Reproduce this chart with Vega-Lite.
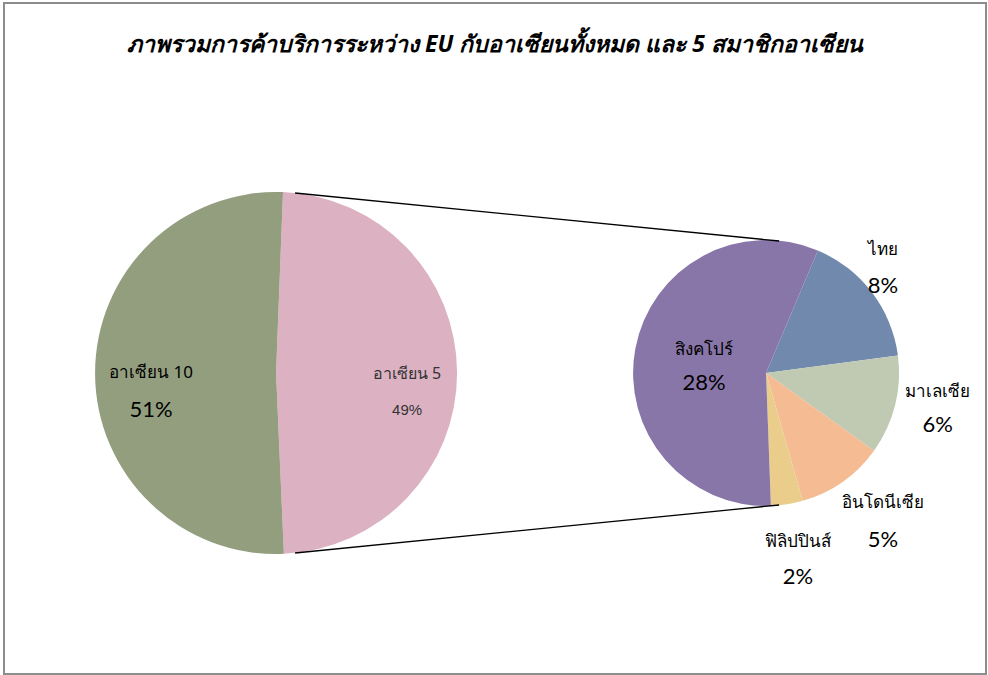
{
  "$schema": "https://vega.github.io/schema/vega-lite/v6.json",
  "width": 982,
  "height": 671,
  "autosize": {"type": "none"},
  "padding": {"left": 4, "top": 3, "right": 2, "bottom": 1},
  "background": "white",
  "config": {"view": {"stroke": "#8c8c8c", "strokeWidth": 2}, "text": {"font": "Noto Sans", "color": "black"}},
  "title": {
    "text": "ภาพรวมการค้าบริการระหว่าง EU กับอาเซียนทั้งหมด และ 5 สมาชิกอาเซียน",
    "fontSize": 23, "fontStyle": "italic", "fontWeight": "bold", "color": "black",
    "font": "Noto Sans", "anchor": "middle", "baseline": "middle", "offset": -65
  },
  "datasets": {
    "left": [
      {"k": 1, "name": "อาเซียน 5", "share": 48.7, "label": "49%"},
      {"k": 2, "name": "อาเซียน 10", "share": 51.3, "label": "51%"}
    ],
    "right": [
      {"k": 1, "name": "ไทย", "share": 8.1, "label": "8%"},
      {"k": 2, "name": "มาเลเซีย", "share": 5.9, "label": "6%"},
      {"k": 3, "name": "อินโดนีเซีย", "share": 5.2, "label": "5%"},
      {"k": 4, "name": "ฟิลิปปินส์", "share": 1.9, "label": "2%"},
      {"k": 5, "name": "สิงคโปร์", "share": 27.9, "label": "28%"}
    ]
  },
  "layer": [
    {
      "data": {"name": "left"},
      "mark": {"type": "arc", "outerRadius": 181},
      "encoding": {
        "x": {"datum": "ASEAN", "type": "nominal", "scale": {"type": "point", "domain": ["ASEAN", "ASEAN5"], "padding": 0.502, "align": 0.553}, "axis": null},
        "y": {"datum": "mid", "type": "nominal", "scale": {"type": "point", "domain": ["mid"], "align": 0.5514}, "axis": null},
        "theta": {"field": "share", "type": "quantitative", "stack": true, "scale": {"range": [0.0384, 6.3216]}},
        "order": {"field": "k", "type": "quantitative"},
        "color": {"field": "name", "type": "nominal", "legend": null,
          "scale": {"domain": ["อาเซียน 5", "อาเซียน 10", "ไทย", "มาเลเซีย", "อินโดนีเซีย", "ฟิลิปปินส์", "สิงคโปร์"],
                    "range": ["#DCB2C3", "#939E7E", "#7189AC", "#C0C9B1", "#F5BB93", "#EBCD8B", "#8976A9"]}}
      }
    },
    {
      "data": {"name": "right"},
      "mark": {"type": "arc", "outerRadius": 133},
      "encoding": {
        "x": {"datum": "ASEAN5", "type": "nominal", "axis": null},
        "y": {"datum": "mid", "type": "nominal", "axis": null},
        "theta": {"field": "share", "type": "quantitative", "stack": true, "scale": {"range": [0.3997, 6.6829]}},
        "order": {"field": "k", "type": "quantitative"},
        "color": {"field": "name", "type": "nominal", "legend": null}
      }
    },
    {
      "data": {"values": [{"edge": "top"}]},
      "mark": {"type": "rule", "color": "black", "strokeWidth": 1.3, "xOffset": 19, "yOffset": -180, "x2Offset": 13, "y2Offset": -132},
      "encoding": {
        "x": {"datum": "ASEAN", "type": "nominal", "axis": null},
        "x2": {"datum": "ASEAN5"},
        "y": {"datum": "mid", "type": "nominal", "axis": null},
        "y2": {"datum": "mid"}
      }
    },
    {
      "data": {"values": [{"edge": "bottom"}]},
      "mark": {"type": "rule", "color": "black", "strokeWidth": 1.3, "xOffset": 19, "yOffset": 180, "x2Offset": 13, "y2Offset": 132},
      "encoding": {
        "x": {"datum": "ASEAN", "type": "nominal", "axis": null},
        "x2": {"datum": "ASEAN5"},
        "y": {"datum": "mid", "type": "nominal", "axis": null},
        "y2": {"datum": "mid"}
      }
    },
    {
      "data": {"name": "left"},
      "mark": {"type": "text", "radius": 125, "dy": 0, "fontSize": 17},
      "encoding": {
        "x": {"datum": "ASEAN", "type": "nominal", "axis": null},
        "y": {"datum": "mid", "type": "nominal", "axis": null},
        "theta": {"field": "share", "type": "quantitative", "stack": true, "scale": {"range": [0.0384, 6.3216]}},
        "order": {"field": "k", "type": "quantitative"},
        "text": {"condition": {"test": "datum.k === 2", "field": "name", "type": "nominal"}, "value": ""}
      }
    },
    {
      "data": {"name": "left"},
      "mark": {"type": "text", "radius": 125, "dy": 37, "fontSize": 22, "font": "Lato"},
      "encoding": {
        "x": {"datum": "ASEAN", "type": "nominal", "axis": null},
        "y": {"datum": "mid", "type": "nominal", "axis": null},
        "theta": {"field": "share", "type": "quantitative", "stack": true, "scale": {"range": [0.0384, 6.3216]}},
        "order": {"field": "k", "type": "quantitative"},
        "text": {"condition": {"test": "datum.k === 2", "field": "label", "type": "nominal"}, "value": ""}
      }
    },
    {
      "data": {"name": "left"},
      "mark": {"type": "text", "radius": 131, "dy": 1, "fontSize": 16, "color": "#333333"},
      "encoding": {
        "x": {"datum": "ASEAN", "type": "nominal", "axis": null},
        "y": {"datum": "mid", "type": "nominal", "axis": null},
        "theta": {"field": "share", "type": "quantitative", "stack": true, "scale": {"range": [0.0384, 6.3216]}},
        "order": {"field": "k", "type": "quantitative"},
        "text": {"condition": {"test": "datum.k === 1", "field": "name", "type": "nominal"}, "value": ""}
      }
    },
    {
      "data": {"name": "left"},
      "mark": {"type": "text", "radius": 131, "dy": 37, "fontSize": 15, "color": "#333333", "font": "Liberation Sans"},
      "encoding": {
        "x": {"datum": "ASEAN", "type": "nominal", "axis": null},
        "y": {"datum": "mid", "type": "nominal", "axis": null},
        "theta": {"field": "share", "type": "quantitative", "stack": true, "scale": {"range": [0.0384, 6.3216]}},
        "order": {"field": "k", "type": "quantitative"},
        "text": {"condition": {"test": "datum.k === 1", "field": "label", "type": "nominal"}, "value": ""}
      }
    },
    {
      "data": {"name": "right"},
      "mark": {"type": "text", "radius": 63, "dy": -12, "fontSize": 17},
      "encoding": {
        "x": {"datum": "ASEAN5", "type": "nominal", "axis": null},
        "y": {"datum": "mid", "type": "nominal", "axis": null},
        "theta": {"field": "share", "type": "quantitative", "stack": true, "scale": {"range": [0.3997, 6.6829]}},
        "order": {"field": "k", "type": "quantitative"},
        "text": {"condition": {"test": "datum.k === 5", "field": "name", "type": "nominal"}, "value": ""}
      }
    },
    {
      "data": {"name": "right"},
      "mark": {"type": "text", "radius": 63, "dy": 21, "fontSize": 22, "font": "Lato"},
      "encoding": {
        "x": {"datum": "ASEAN5", "type": "nominal", "axis": null},
        "y": {"datum": "mid", "type": "nominal", "axis": null},
        "theta": {"field": "share", "type": "quantitative", "stack": true, "scale": {"range": [0.3997, 6.6829]}},
        "order": {"field": "k", "type": "quantitative"},
        "text": {"condition": {"test": "datum.k === 5", "field": "label", "type": "nominal"}, "value": ""}
      }
    },
    {
      "data": {"name": "right"},
      "mark": {"type": "text", "radius": 147, "dy": -34, "fontSize": 17},
      "encoding": {
        "x": {"datum": "ASEAN5", "type": "nominal", "axis": null},
        "y": {"datum": "mid", "type": "nominal", "axis": null},
        "theta": {"field": "share", "type": "quantitative", "stack": true, "scale": {"range": [0.3997, 6.6829]}},
        "order": {"field": "k", "type": "quantitative"},
        "text": {"condition": {"test": "datum.k === 1", "field": "name", "type": "nominal"}, "value": ""}
      }
    },
    {
      "data": {"name": "right"},
      "mark": {"type": "text", "radius": 147, "dy": 2, "fontSize": 22, "font": "Lato"},
      "encoding": {
        "x": {"datum": "ASEAN5", "type": "nominal", "axis": null},
        "y": {"datum": "mid", "type": "nominal", "axis": null},
        "theta": {"field": "share", "type": "quantitative", "stack": true, "scale": {"range": [0.3997, 6.6829]}},
        "order": {"field": "k", "type": "quantitative"},
        "text": {"condition": {"test": "datum.k === 1", "field": "label", "type": "nominal"}, "value": ""}
      }
    },
    {
      "data": {"name": "right"},
      "mark": {"type": "text", "radius": 177, "dy": -24, "fontSize": 17},
      "encoding": {
        "x": {"datum": "ASEAN5", "type": "nominal", "axis": null},
        "y": {"datum": "mid", "type": "nominal", "axis": null},
        "theta": {"field": "share", "type": "quantitative", "stack": true, "scale": {"range": [0.3997, 6.6829]}},
        "order": {"field": "k", "type": "quantitative"},
        "text": {"condition": {"test": "datum.k === 2", "field": "name", "type": "nominal"}, "value": ""}
      }
    },
    {
      "data": {"name": "right"},
      "mark": {"type": "text", "radius": 177, "dy": 9, "fontSize": 22, "font": "Lato"},
      "encoding": {
        "x": {"datum": "ASEAN5", "type": "nominal", "axis": null},
        "y": {"datum": "mid", "type": "nominal", "axis": null},
        "theta": {"field": "share", "type": "quantitative", "stack": true, "scale": {"range": [0.3997, 6.6829]}},
        "order": {"field": "k", "type": "quantitative"},
        "text": {"condition": {"test": "datum.k === 2", "field": "label", "type": "nominal"}, "value": ""}
      }
    },
    {
      "data": {"name": "right"},
      "mark": {"type": "text", "radius": 203, "dy": -36, "fontSize": 17},
      "encoding": {
        "x": {"datum": "ASEAN5", "type": "nominal", "axis": null},
        "y": {"datum": "mid", "type": "nominal", "axis": null},
        "theta": {"field": "share", "type": "quantitative", "stack": true, "scale": {"range": [0.3997, 6.6829]}},
        "order": {"field": "k", "type": "quantitative"},
        "text": {"condition": {"test": "datum.k === 3", "field": "name", "type": "nominal"}, "value": ""}
      }
    },
    {
      "data": {"name": "right"},
      "mark": {"type": "text", "radius": 203, "dy": 1, "fontSize": 22, "font": "Lato"},
      "encoding": {
        "x": {"datum": "ASEAN5", "type": "nominal", "axis": null},
        "y": {"datum": "mid", "type": "nominal", "axis": null},
        "theta": {"field": "share", "type": "quantitative", "stack": true, "scale": {"range": [0.3997, 6.6829]}},
        "order": {"field": "k", "type": "quantitative"},
        "text": {"condition": {"test": "datum.k === 3", "field": "label", "type": "nominal"}, "value": ""}
      }
    },
    {
      "data": {"name": "right"},
      "mark": {"type": "text", "radius": 202, "dy": -30, "fontSize": 17},
      "encoding": {
        "x": {"datum": "ASEAN5", "type": "nominal", "axis": null},
        "y": {"datum": "mid", "type": "nominal", "axis": null},
        "theta": {"field": "share", "type": "quantitative", "stack": true, "scale": {"range": [0.3997, 6.6829]}},
        "order": {"field": "k", "type": "quantitative"},
        "text": {"condition": {"test": "datum.k === 4", "field": "name", "type": "nominal"}, "value": ""}
      }
    },
    {
      "data": {"name": "right"},
      "mark": {"type": "text", "radius": 202, "dy": 5, "fontSize": 22, "font": "Lato"},
      "encoding": {
        "x": {"datum": "ASEAN5", "type": "nominal", "axis": null},
        "y": {"datum": "mid", "type": "nominal", "axis": null},
        "theta": {"field": "share", "type": "quantitative", "stack": true, "scale": {"range": [0.3997, 6.6829]}},
        "order": {"field": "k", "type": "quantitative"},
        "text": {"condition": {"test": "datum.k === 4", "field": "label", "type": "nominal"}, "value": ""}
      }
    }
  ],
  "resolve": {"scale": {"theta": "independent"}}
}
